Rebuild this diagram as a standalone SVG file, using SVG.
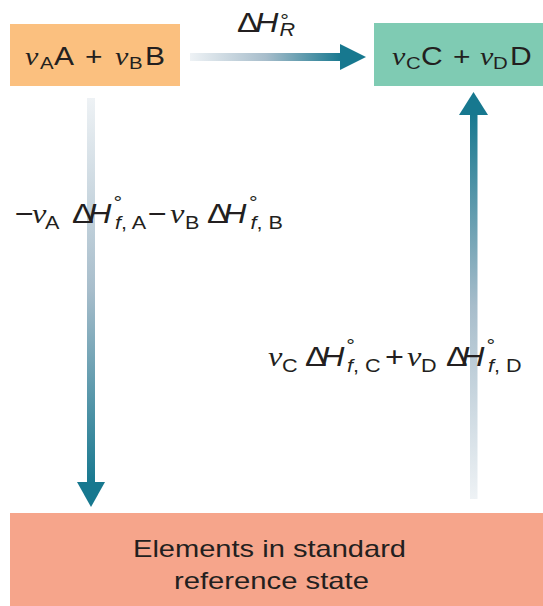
<svg xmlns="http://www.w3.org/2000/svg" width="543" height="606" viewBox="0 0 543 606">
<defs>
<style>
.t{font-family:"Liberation Sans",Arial,sans-serif;fill:#231f20}
.nu{font-family:"Liberation Serif","Times New Roman",serif;font-style:italic}
.it{font-style:italic}
.m{font-size:27px}
.s{font-size:18px}
.bx{font-size:25px}
.bs{font-size:17px}
.head{fill:#17788f}
</style>
<linearGradient id="gh" x1="0" y1="0" x2="1" y2="0">
<stop offset="0" stop-color="#eef2f5"/><stop offset="0.5" stop-color="#a7bdcb"/><stop offset="1" stop-color="#17788f"/>
</linearGradient>
<linearGradient id="gd" x1="0" y1="0" x2="0" y2="1">
<stop offset="0" stop-color="#eef2f5"/><stop offset="0.5" stop-color="#a7bdcb"/><stop offset="1" stop-color="#17788f"/>
</linearGradient>
<linearGradient id="gu" x1="0" y1="1" x2="0" y2="0">
<stop offset="0" stop-color="#eef2f5"/><stop offset="0.5" stop-color="#a7bdcb"/><stop offset="1" stop-color="#17788f"/>
</linearGradient>
</defs>
<rect width="543" height="606" fill="#ffffff"/>

<g id="reactants">
<rect x="10" y="24" width="170" height="62" fill="#fbc07f"/>
<text class="t bx" transform="scale(1.2,1)" y="65"><tspan class="nu" x="20.8">ν</tspan><tspan class="bs" x="33.3" y="69">A</tspan><tspan x="45" y="65">A</tspan><tspan x="70.8">+</tspan><tspan class="nu" x="95.8">ν</tspan><tspan class="bs" x="107.5" y="69">B</tspan><tspan x="120.8" y="65">B</tspan></text>
</g>

<g id="products">
<rect x="374" y="23" width="169" height="63" fill="#7fcbb3"/>
<text class="t bx" transform="scale(1.2,1)" y="65"><tspan class="nu" x="326.7">ν</tspan><tspan class="bs" x="338.3" y="69">C</tspan><tspan x="350.8" y="65">C</tspan><tspan x="377.5">+</tspan><tspan class="nu" x="400">ν</tspan><tspan class="bs" x="410.8" y="69">D</tspan><tspan x="425" y="65">D</tspan></text>
</g>

<g id="elements">
<rect x="10" y="513" width="533" height="93" fill="#f6a58b"/>
<text class="t" font-size="24" x="133" y="557" textLength="273" lengthAdjust="spacingAndGlyphs">Elements in standard</text>
<text class="t" font-size="24" x="174" y="589" textLength="195" lengthAdjust="spacingAndGlyphs">reference state</text>
</g>

<g id="connectors">
<rect x="190" y="53" width="152" height="8" fill="url(#gh)"/>
<polygon class="head" points="340,44 366,57 340,70"/>
<rect x="87" y="98" width="8" height="386" fill="url(#gd)"/>
<polygon class="head" points="77,482 105,482 91,507"/>
<rect x="470" y="113" width="7.5" height="386" fill="url(#gu)"/>
<polygon class="head" points="459,115 488,115 473.5,92"/>
</g>

<g id="labels">
<text class="t m" transform="scale(1.2,1)" y="32"><tspan x="197.5">Δ</tspan><tspan class="it" x="212.5">H</tspan><tspan class="s" x="233.5" y="27">°</tspan><tspan class="s it" x="233" y="36">R</tspan></text>

<text class="t m" transform="scale(1.2,1)" y="223"><tspan x="12.5">−</tspan><tspan class="nu" x="26.7">ν</tspan><tspan class="s" x="37.5" y="229">A</tspan><tspan x="60" y="223">Δ</tspan><tspan class="it" x="73.3">H</tspan><tspan class="s" x="94.5" y="209">°</tspan><tspan class="s" x="95.8" y="229"><tspan class="it">f</tspan>, A</tspan><tspan x="123.3" y="223">−</tspan><tspan class="nu" x="141.7">ν</tspan><tspan class="s" x="154.2" y="229">B</tspan><tspan x="172.5" y="223">Δ</tspan><tspan class="it" x="185.8">H</tspan><tspan class="s" x="207.5" y="209">°</tspan><tspan class="s" x="208.8" y="229"><tspan class="it">f</tspan>, B</tspan></text>

<text class="t m" transform="scale(1.2,1)" y="366"><tspan class="nu" x="223.3">ν</tspan><tspan class="s" x="235" y="372">C</tspan><tspan x="254.2" y="366">Δ</tspan><tspan class="it" x="267.5">H</tspan><tspan class="s" x="288.5" y="352">°</tspan><tspan class="s" x="289.2" y="372"><tspan class="it">f</tspan>, C</tspan><tspan x="320.8" y="366">+</tspan><tspan class="nu" x="339.2">ν</tspan><tspan class="s" x="350.8" y="372">D</tspan><tspan x="371.7" y="366">Δ</tspan><tspan class="it" x="384.2">H</tspan><tspan class="s" x="405.5" y="352">°</tspan><tspan class="s" x="406.7" y="372"><tspan class="it">f</tspan>, D</tspan></text>
</g>
</svg>
